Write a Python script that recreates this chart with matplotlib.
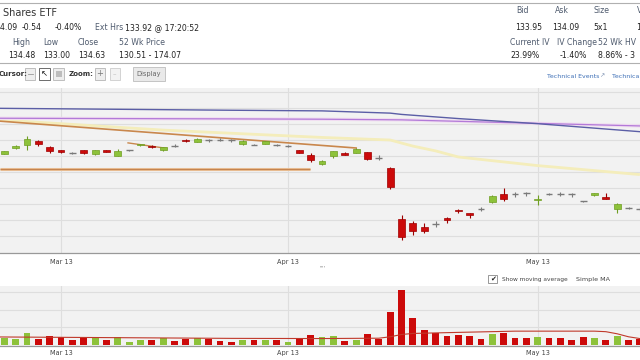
import matplotlib
matplotlib.use("Agg")
import matplotlib.pyplot as plt
from matplotlib.patches import Rectangle
import numpy as np

# daily candles, index 0 = first visible trading day
opens = [136.07, 136.24, 136.35, 136.48, 136.29, 136.19, 136.09, 136.18, 136.06, 136.18,
         136.01, 136.17, 136.33, 136.32, 136.18, 136.32, 136.51, 136.45, 136.50, 136.52,
         136.50, 136.38, 136.36, 136.38, 136.35, 136.30, 136.18, 136.04, 135.75, 135.99,
         136.08, 136.09, 136.12, 135.96, 135.63, 134.04, 133.91, 133.78, 133.88, 134.06,
         134.32, 134.21, 134.36, 134.55, 134.82, 134.82, 134.87, 134.62, 134.81, 134.81,
         134.82, 134.59, 134.77, 134.73, 134.35, 134.38, 134.36]
highs = [136.17, 136.34, 136.62, 136.50, 136.31, 136.20, 136.11, 136.20, 136.20, 136.19,
         136.22, 136.20, 136.38, 136.34, 136.29, 136.36, 136.52, 136.56, 136.53, 136.55,
         136.52, 136.50, 136.38, 136.48, 136.37, 136.33, 136.20, 136.09, 135.86, 136.17,
         136.11, 136.24, 136.14, 136.02, 135.66, 134.15, 133.97, 133.91, 133.96, 134.09,
         134.33, 134.23, 134.42, 134.78, 135.00, 134.88, 134.88, 134.77, 134.86, 134.88,
         134.83, 134.61, 134.86, 134.83, 134.52, 134.42, 134.42]
lows = [136.05, 136.22, 136.20, 136.32, 136.08, 136.09, 136.06, 136.07, 136.02, 136.12,
        135.99, 136.16, 136.32, 136.25, 136.16, 136.27, 136.45, 136.43, 136.44, 136.48,
        136.45, 136.33, 136.33, 136.37, 136.32, 136.28, 136.08, 135.81, 135.73, 135.94,
        136.02, 136.08, 135.89, 135.88, 134.97, 133.38, 133.54, 133.59, 133.77, 133.91,
        134.22, 134.06, 134.27, 134.53, 134.58, 134.73, 134.74, 134.48, 134.77, 134.75,
        134.73, 134.55, 134.75, 134.65, 134.22, 134.33, 134.28]
closes = [136.15, 136.32, 136.54, 136.38, 136.17, 136.12, 136.07, 136.09, 136.19, 136.13,
          136.15, 136.18, 136.37, 136.27, 136.27, 136.30, 136.46, 136.54, 136.48, 136.51,
          136.48, 136.46, 136.34, 136.46, 136.33, 136.31, 136.09, 135.88, 135.83, 136.15,
          136.04, 136.22, 135.91, 135.94, 135.03, 133.48, 133.67, 133.67, 133.86, 133.99,
          134.28, 134.16, 134.34, 134.76, 134.66, 134.80, 134.85, 134.67, 134.79, 134.79,
          134.80, 134.58, 134.84, 134.67, 134.50, 134.36, 134.34]
# volume in millions
volumes = [0.36, 0.31, 0.65, 0.32, 0.51, 0.42, 0.25, 0.38, 0.36, 0.25,
           0.42, 0.17, 0.27, 0.28, 0.40, 0.21, 0.32, 0.38, 0.31, 0.21,
           0.17, 0.25, 0.27, 0.27, 0.27, 0.17, 0.32, 0.53, 0.41, 0.49,
           0.23, 0.25, 0.63, 0.31, 1.84, 3.11, 1.50, 0.84, 0.68, 0.51,
           0.55, 0.49, 0.34, 0.63, 0.65, 0.36, 0.38, 0.45, 0.38, 0.38,
           0.28, 0.45, 0.38, 0.28, 0.49, 0.25, 0.32]

# moving averages / drawn lines, read at a few points
ma_blue_x = [-0.4, 10, 20, 28, 34, 35, 40, 47, 56]
ma_blue_y = [137.49, 137.46, 137.43, 137.41, 137.34, 137.30, 137.17, 137.01, 136.76]
ma_purple_x = [-0.4, 10, 20, 28, 35, 47, 56]
ma_purple_y = [137.18, 137.17, 137.16, 137.15, 137.13, 137.02, 136.94]
ma_yellow_x = [-0.4, 14, 28, 31, 34, 36, 38, 40, 47, 56]
ma_yellow_y = [137.13, 136.81, 136.58, 136.54, 136.50, 136.31, 136.16, 135.97, 135.70, 135.42]
trend_x = [-0.4, 31.0]
trend_y = [137.09, 136.25]
trend2_x = [10.9, 14.3]
trend2_y = [136.41, 136.24]
hline_x = [-0.4, 26.9]
hline_y = [135.59, 135.59]
vol_ma_x = [-0.4, 10, 20, 28, 33, 34, 35, 36, 40, 45, 52, 53, 54, 55, 56]
vol_ma_y = [0.44, 0.40, 0.36, 0.35, 0.37, 0.45, 0.58, 0.64, 0.70, 0.77, 0.77, 0.74, 0.62, 0.45, 0.35]

date_pos = [5, 25, 47]
date_labels = ["Mar 13", "Apr 13", "May 13"]

GREEN = "#8dc23a"
GREEN_E = "#6f9e22"
RED = "#cc0a0a"
RED_E = "#9e0000"
DOJI = "#7a7a7a"
BG = "#f2f2f2"
GRID = "#dedede"
LABEL = "#4f5b6e"
VAL = "#222222"

W, H = 640, 360
fig = plt.figure(figsize=(6.4, 3.6), dpi=100)
fig.patch.set_facecolor("white")


def px_axes(x0, y0, x1, y1):
    return fig.add_axes([x0 / W, 1 - y1 / H, (x1 - x0) / W, (y1 - y0) / H])


# overlay for header / toolbar in pixel coords
bg = fig.add_axes([0, 0, 1, 1])
bg.set_xlim(0, W)
bg.set_ylim(H, 0)
bg.axis("off")

bg.plot([0, W], [2.7, 2.7], color="#b0b0b0", lw=0.8)
bg.plot([0, W], [62.7, 62.7], color="#b0b0b0", lw=0.8)

def t(x, y, s, size=5.6, color=VAL, **kw):
    bg.text(x, y, s, fontsize=size, color=color, va="center", ha=kw.pop("ha", "left"),
            family="DejaVu Sans", **kw)

t(3, 12.5, "Shares ETF", size=7, color="#333333")
t(17, 27.3, "134.09", ha="right")
t(22, 27.3, "-0.54")
t(55, 27.3, "-0.40%")
t(95, 27.3, "Ext Hrs", color=LABEL)
t(125, 27.3, "133.92 @ 17:20:52")
for x, s in [(12, "High"), (43, "Low"), (78, "Close"), (119, "52 Wk Price")]:
    t(x, 42.3, s, color=LABEL)
for x, s in [(8, "134.48"), (43, "133.00"), (78, "134.63"), (119, "130.51 - 174.07")]:
    t(x, 55, s)

for x, s in [(516.7, "Bid"), (555, "Ask"), (593.3, "Size"), (636.7, "V")]:
    t(x, 10.7, s, color=LABEL)
for x, s in [(515, "133.95"), (552.3, "134.09"), (593.3, "5x1"), (636, "1")]:
    t(x, 27.3, s)
for x, s in [(510, "Current IV"), (557.3, "IV Change"), (598.3, "52 Wk HV")]:
    t(x, 42.7, s, color=LABEL)
for x, s in [(510, "23.99%"), (560, "-1.40%"), (598.3, "8.86% - 3")]:
    t(x, 56, s)

# toolbar
t(-1, 74, "Cursor:", size=5, color="#333333", weight="bold")
def button(x, y, w, h, fc="#eeeeee", ec="#b5b5b5"):
    bg.add_patch(Rectangle((x, y), w, h, facecolor=fc, edgecolor=ec, lw=0.6))
button(25, 68, 10, 12)
bg.plot([27.5, 32.5], [74, 74], color="#999999", lw=0.6)
button(38.5, 68, 11, 12, fc="white", ec="#555555")
t(44, 74, "\u2196", size=6, color="#111111", ha="center")
button(53, 68, 11, 12)
bg.add_patch(Rectangle((55.5, 71), 6, 6, facecolor="#bdbdbd", edgecolor="none"))
t(69, 74, "Zoom:", size=5, color="#333333", weight="bold")
button(94.5, 68, 10, 12)
t(99.5, 74, "+", size=6, color="#777777", ha="center")
button(109.5, 68, 10, 12, fc="#f2f2f2", ec="#cccccc")
t(114.5, 74, "\u2013", size=5, color="#bbbbbb", ha="center")
button(133, 67, 32, 14, fc="#e9e9e9", ec="#bdbdbd")
t(149, 74, "Display", size=4.8, color="#666666", ha="center")

t(546.7, 76.5, "Technical Events", size=4.5, color="#3d6fb6")
t(599.5, 76, "\u2197", size=4.5, color="#7a8fb0")
t(612.5, 76.5, "Technical Indicators", size=4.5, color="#3d6fb6")

# grip + moving average controls
t(322, 268, "''''", size=4, color="#888888", ha="center")
bg.add_patch(Rectangle((488.3, 275), 8.4, 8.3, facecolor="white", edgecolor="#888888", lw=0.6))
t(492.7, 278.8, "\u2714", size=5, color="#222222", ha="center")
t(501.7, 279, "Show moving average", size=4.2, color="#444444")
t(576, 279, "Simple MA", size=4.6, color="#444444")

# ---- price panel
ax = px_axes(0, 88, 640, 253)
ax.set_facecolor(BG)
ax.set_xlim(-0.379, 56.01)
ax.set_ylim(132.97, 138.125)
ax.set_yticks(np.arange(133.5, 138.1, 0.5))
ax.set_xticks(date_pos)
ax.set_xticklabels(date_labels)
ax.tick_params(axis="both", length=0, labelsize=4.7, labelcolor="#444444", pad=4)
ax.tick_params(axis="y", labelleft=False)
ax.grid(True, color=GRID, lw=0.8)
ax.set_axisbelow(True)
for s in ["top", "left", "right"]:
    ax.spines[s].set_visible(False)
ax.spines["bottom"].set_color("#999999")
ax.spines["bottom"].set_linewidth(0.9)

ax.plot(ma_yellow_x, ma_yellow_y, color="#f4edbb", lw=2.0, zorder=2, solid_capstyle="butt")
ax.plot(ma_purple_x, ma_purple_y, color="#f1dcf1", lw=2.4, zorder=2)
ax.plot(ma_purple_x, ma_purple_y, color="#b27ad8", lw=0.9, zorder=2.1)
ax.plot(ma_blue_x, ma_blue_y, color="#5b5ea6", lw=1.0, zorder=2.2)
ax.plot(trend_x, trend_y, color="#c9874c", lw=1.2, zorder=2.3)
ax.plot(trend2_x, trend2_y, color="#c9874c", lw=1.0, zorder=2.3)
ax.plot(hline_x, hline_y, color="#f0c9a0", lw=2.2, zorder=2.3, solid_capstyle="butt")
ax.plot(hline_x, [v + 0.008 for v in hline_y], color="#c58450", lw=1.0, zorder=2.4,
        solid_capstyle="butt")

idx = np.arange(len(opens))
for i in idx:
    o, h, l, c = opens[i], highs[i], lows[i], closes[i]
    if abs(c - o) <= 0.025:
        ax.vlines(i, l, h, color=DOJI, lw=0.8, zorder=3)
        ax.hlines((o + c) / 2, i - 0.3, i + 0.3, color=DOJI, lw=1.0, zorder=3)
        continue
    fc, ec = (GREEN, GREEN_E) if c > o else (RED, RED_E)
    ax.vlines(i, l, h, color=ec, lw=0.8, zorder=3)
    ax.bar(i, abs(c - o), bottom=min(o, c), width=0.6, color=fc, edgecolor=ec,
           lw=0.5, zorder=4)

# ---- volume panel
axv = px_axes(0, 286, 640, 345.5)
axv.set_facecolor(BG)
axv.set_xlim(-0.379, 56.01)
axv.set_ylim(-0.045, 3.335)
axv.set_yticks([1, 2, 3])
axv.set_xticks(date_pos)
axv.set_xticklabels(date_labels)
axv.tick_params(axis="both", length=0, labelsize=4.7, labelcolor="#444444", pad=3)
axv.tick_params(axis="y", labelleft=False)
axv.grid(True, color=GRID, lw=0.8)
axv.set_axisbelow(True)
for s in ["top", "left", "right"]:
    axv.spines[s].set_visible(False)
axv.spines["bottom"].set_color("#999999")
axv.spines["bottom"].set_linewidth(0.9)

vcols = [GREEN if closes[i] >= opens[i] else RED for i in idx]
axv.bar(idx, volumes, width=0.6, color=vcols, zorder=3)
axv.plot(vol_ma_x, vol_ma_y, color="#c0392b", lw=0.8, zorder=4)

fig.savefig("out.png", dpi=100, facecolor="white")
